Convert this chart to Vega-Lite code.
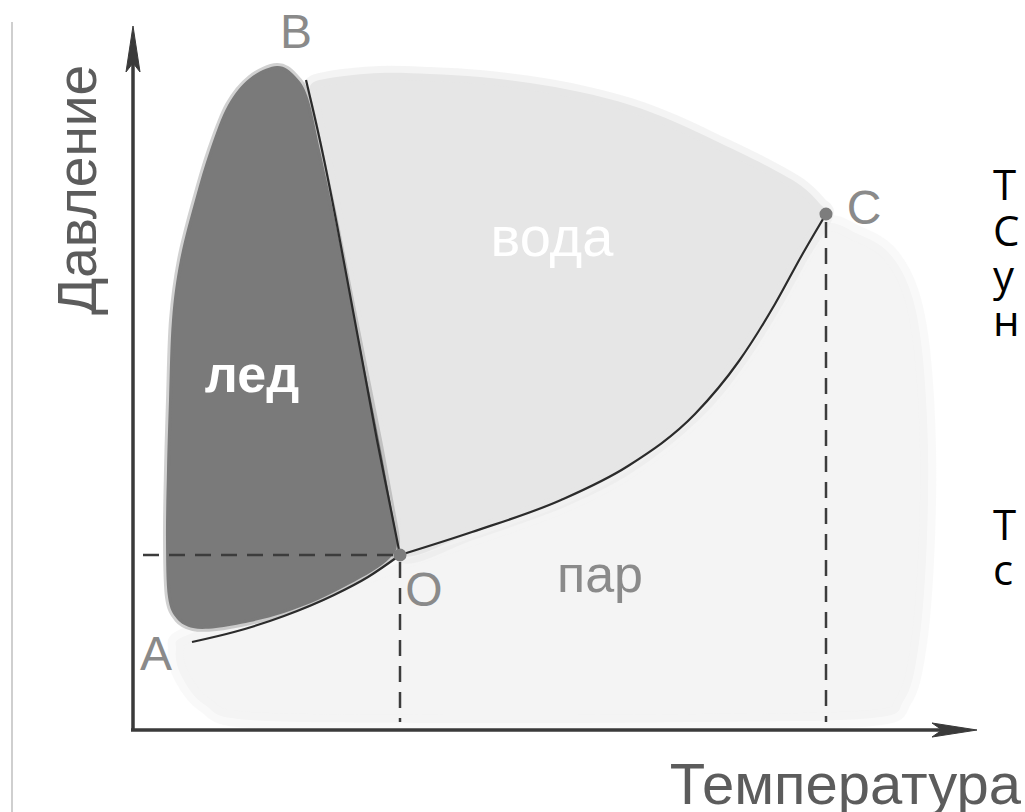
{
  "$schema": "https://vega.github.io/schema/vega-lite/v6.json",
  "width": 1025,
  "height": 812,
  "padding": 0,
  "autosize": {"type": "none"},
  "background": "white",
  "config": {"view": {"stroke": null}},
  "encoding": {
    "x": {"field": "x", "type": "quantitative", "scale": {"domain": [0, 1025], "nice": false, "zero": false}, "axis": null},
    "y": {"field": "y", "type": "quantitative", "scale": {"domain": [0, 812], "reverse": true, "nice": false, "zero": false}, "axis": null}
  },
  "layer": [
    {
      "data": {"values": [
        {"i": 1, "x": 190, "y": 634}, {"i": 2, "x": 300, "y": 603}, {"i": 3, "x": 401, "y": 562}, {"i": 4, "x": 472, "y": 538},
        {"i": 5, "x": 561, "y": 506}, {"i": 6, "x": 628, "y": 471}, {"i": 7, "x": 695, "y": 418}, {"i": 8, "x": 739, "y": 365},
        {"i": 9, "x": 775, "y": 308}, {"i": 10, "x": 802, "y": 259}, {"i": 11, "x": 826, "y": 224}, {"i": 12, "x": 858, "y": 234},
        {"i": 13, "x": 888, "y": 252}, {"i": 14, "x": 910, "y": 290}, {"i": 15, "x": 922, "y": 350}, {"i": 16, "x": 928, "y": 450},
        {"i": 17, "x": 926, "y": 560}, {"i": 18, "x": 918, "y": 650}, {"i": 19, "x": 904, "y": 700}, {"i": 20, "x": 872, "y": 718},
        {"i": 21, "x": 700, "y": 722}, {"i": 22, "x": 450, "y": 723}, {"i": 23, "x": 250, "y": 720}, {"i": 24, "x": 205, "y": 705},
        {"i": 25, "x": 182, "y": 677}, {"i": 26, "x": 176, "y": 650}
      ]},
      "mark": {"type": "line", "interpolate": "cardinal-closed", "fill": "#f4f4f4", "stroke": "#f4f4f4", "strokeWidth": 16, "strokeOpacity": 0.5, "strokeJoin": "round"},
      "encoding": {"order": {"field": "i", "type": "quantitative"}}
    },
    {
      "data": {"values": [
        {"i": 1, "x": 310, "y": 86}, {"i": 2, "x": 330, "y": 78}, {"i": 3, "x": 380, "y": 73}, {"i": 4, "x": 430, "y": 74},
        {"i": 5, "x": 480, "y": 77}, {"i": 6, "x": 530, "y": 83}, {"i": 7, "x": 580, "y": 92}, {"i": 8, "x": 630, "y": 105},
        {"i": 9, "x": 675, "y": 122}, {"i": 10, "x": 720, "y": 143}, {"i": 11, "x": 765, "y": 165}, {"i": 12, "x": 800, "y": 185},
        {"i": 13, "x": 820, "y": 204}, {"i": 14, "x": 826, "y": 216}, {"i": 15, "x": 802, "y": 255}, {"i": 16, "x": 775, "y": 304},
        {"i": 17, "x": 739, "y": 361}, {"i": 18, "x": 695, "y": 414}, {"i": 19, "x": 628, "y": 467}, {"i": 20, "x": 561, "y": 501},
        {"i": 21, "x": 472, "y": 533}, {"i": 22, "x": 402, "y": 556}, {"i": 23, "x": 392, "y": 505}, {"i": 24, "x": 380, "y": 445},
        {"i": 25, "x": 366, "y": 375}, {"i": 26, "x": 352, "y": 305}, {"i": 27, "x": 338, "y": 230}, {"i": 28, "x": 324, "y": 155},
        {"i": 29, "x": 314, "y": 110}
      ]},
      "mark": {"type": "line", "interpolate": "cardinal-closed", "fill": "#e6e6e6", "stroke": "#e6e6e6", "strokeWidth": 14, "strokeOpacity": 0.45, "strokeJoin": "round"},
      "encoding": {"order": {"field": "i", "type": "quantitative"}}
    },
    {
      "data": {"values": [
        {"i": 1, "x": 277, "y": 66}, {"i": 2, "x": 295, "y": 76}, {"i": 3, "x": 308, "y": 98}, {"i": 4, "x": 320, "y": 150},
        {"i": 5, "x": 334, "y": 215}, {"i": 6, "x": 349, "y": 290}, {"i": 7, "x": 364, "y": 365}, {"i": 8, "x": 379, "y": 440},
        {"i": 9, "x": 391, "y": 505}, {"i": 10, "x": 397, "y": 543}, {"i": 11, "x": 390, "y": 558}, {"i": 12, "x": 373, "y": 571},
        {"i": 13, "x": 348, "y": 585}, {"i": 14, "x": 318, "y": 600}, {"i": 15, "x": 284, "y": 613}, {"i": 16, "x": 250, "y": 622},
        {"i": 17, "x": 216, "y": 628}, {"i": 18, "x": 193, "y": 628}, {"i": 19, "x": 177, "y": 619}, {"i": 20, "x": 168, "y": 597},
        {"i": 21, "x": 166, "y": 540}, {"i": 22, "x": 167, "y": 470}, {"i": 23, "x": 169, "y": 400}, {"i": 24, "x": 172, "y": 320},
        {"i": 25, "x": 180, "y": 260}, {"i": 26, "x": 195, "y": 200}, {"i": 27, "x": 210, "y": 150}, {"i": 28, "x": 228, "y": 105},
        {"i": 29, "x": 250, "y": 78}
      ]},
      "mark": {"type": "line", "interpolate": "cardinal-closed", "fill": "#7a7a7a", "stroke": "#7a7a7a", "strokeWidth": 6, "strokeOpacity": 0.35, "strokeJoin": "round"},
      "encoding": {"order": {"field": "i", "type": "quantitative"}}
    },
    {
      "data": {"values": [{"s": "border", "i": 1, "x": 12, "y": 22}, {"s": "border", "i": 2, "x": 12, "y": 812}]},
      "mark": {"type": "line", "stroke": "#cfcfcf", "strokeWidth": 2},
      "encoding": {"order": {"field": "i", "type": "quantitative"}}
    },
    {
      "data": {"values": [
        {"s": "yaxis", "i": 1, "x": 133, "y": 731}, {"s": "yaxis", "i": 2, "x": 133, "y": 55},
        {"s": "xaxis", "i": 1, "x": 131, "y": 730}, {"s": "xaxis", "i": 2, "x": 945, "y": 730}
      ]},
      "mark": {"type": "line", "stroke": "#3a3a3a", "strokeWidth": 3.5},
      "encoding": {"detail": {"field": "s"}, "order": {"field": "i", "type": "quantitative"}}
    },
    {
      "data": {"values": [
        {"s": "yhead", "i": 1, "x": 133, "y": 26}, {"s": "yhead", "i": 2, "x": 140, "y": 72}, {"s": "yhead", "i": 3, "x": 133, "y": 63}, {"s": "yhead", "i": 4, "x": 126, "y": 72},
        {"s": "xhead", "i": 1, "x": 977, "y": 730}, {"s": "xhead", "i": 2, "x": 932, "y": 737}, {"s": "xhead", "i": 3, "x": 942, "y": 730}, {"s": "xhead", "i": 4, "x": 932, "y": 723}
      ]},
      "mark": {"type": "line", "interpolate": "linear-closed", "fill": "#3a3a3a", "stroke": "#3a3a3a", "strokeWidth": 1},
      "encoding": {"detail": {"field": "s"}, "order": {"field": "i", "type": "quantitative"}}
    },
    {
      "data": {"values": [
        {"s": "h", "i": 1, "x": 143, "y": 555}, {"s": "h", "i": 2, "x": 396, "y": 555},
        {"s": "vO", "i": 1, "x": 400, "y": 562}, {"s": "vO", "i": 2, "x": 400, "y": 722},
        {"s": "vC", "i": 1, "x": 826, "y": 222}, {"s": "vC", "i": 2, "x": 826, "y": 722}
      ]},
      "mark": {"type": "line", "stroke": "#3c3c3c", "strokeWidth": 2.5, "strokeDash": [16, 10]},
      "encoding": {"detail": {"field": "s"}, "order": {"field": "i", "type": "quantitative"}}
    },
    {
      "data": {"values": [
        {"s": "AO", "i": 1, "x": 192, "y": 642}, {"s": "AO", "i": 2, "x": 234, "y": 632}, {"s": "AO", "i": 3, "x": 284, "y": 616},
        {"s": "AO", "i": 4, "x": 334, "y": 595}, {"s": "AO", "i": 5, "x": 368, "y": 577}, {"s": "AO", "i": 6, "x": 400, "y": 555},
        {"s": "OB", "i": 1, "x": 306, "y": 80}, {"s": "OB", "i": 2, "x": 322, "y": 150}, {"s": "OB", "i": 3, "x": 337, "y": 225},
        {"s": "OB", "i": 4, "x": 351, "y": 300}, {"s": "OB", "i": 5, "x": 364, "y": 370}, {"s": "OB", "i": 6, "x": 377, "y": 440},
        {"s": "OB", "i": 7, "x": 389, "y": 500}, {"s": "OB", "i": 8, "x": 400, "y": 555},
        {"s": "OC", "i": 1, "x": 400, "y": 555}, {"s": "OC", "i": 2, "x": 472, "y": 532}, {"s": "OC", "i": 3, "x": 561, "y": 500},
        {"s": "OC", "i": 4, "x": 628, "y": 466}, {"s": "OC", "i": 5, "x": 695, "y": 414}, {"s": "OC", "i": 6, "x": 739, "y": 361},
        {"s": "OC", "i": 7, "x": 775, "y": 304}, {"s": "OC", "i": 8, "x": 802, "y": 255}, {"s": "OC", "i": 9, "x": 826, "y": 214}
      ]},
      "mark": {"type": "line", "interpolate": "monotone", "stroke": "#2b2b2b", "strokeWidth": 2.2},
      "encoding": {"detail": {"field": "s"}, "order": {"field": "i", "type": "quantitative"}}
    },
    {
      "data": {"values": [{"x": 400, "y": 555}, {"x": 826, "y": 214}]},
      "mark": {"type": "circle", "size": 170, "color": "#7d7d7d", "opacity": 1}
    },
    {
      "data": {"values": [
        {"t": "B", "x": 296, "y": 48}, {"t": "C", "x": 864, "y": 224}, {"t": "O", "x": 424, "y": 606}, {"t": "A", "x": 156, "y": 670}
      ]},
      "mark": {"type": "text", "font": "Liberation Sans", "fontSize": 48, "color": "#8a8a8a", "align": "center", "baseline": "alphabetic"},
      "encoding": {"text": {"field": "t"}}
    },
    {
      "data": {"values": [{"t": "пар", "x": 600, "y": 592}]},
      "mark": {"type": "text", "font": "Liberation Sans", "fontSize": 52, "color": "#8a8a8a", "align": "center", "baseline": "alphabetic"},
      "encoding": {"text": {"field": "t"}}
    },
    {
      "data": {"values": [{"t": "вода", "x": 552, "y": 256}]},
      "mark": {"type": "text", "font": "Liberation Sans", "fontSize": 56, "color": "#ffffff", "align": "center", "baseline": "alphabetic"},
      "encoding": {"text": {"field": "t"}}
    },
    {
      "data": {"values": [{"t": "лед", "x": 252, "y": 392}]},
      "mark": {"type": "text", "font": "Liberation Sans", "fontSize": 52, "fontWeight": "bold", "color": "#ffffff", "align": "center", "baseline": "alphabetic"},
      "encoding": {"text": {"field": "t"}}
    },
    {
      "data": {"values": [{"t": "Давление", "x": 96, "y": 190}]},
      "mark": {"type": "text", "font": "Liberation Sans", "fontSize": 55, "angle": 270, "color": "#5c5c5c", "align": "center", "baseline": "alphabetic"},
      "encoding": {"text": {"field": "t"}}
    },
    {
      "data": {"values": [{"t": "Температура", "x": 1021, "y": 804}]},
      "mark": {"type": "text", "font": "Liberation Sans", "fontSize": 58, "color": "#5c5c5c", "align": "right", "baseline": "alphabetic"},
      "encoding": {"text": {"field": "t"}}
    },
    {
      "data": {"values": [
        {"t": "Т", "x": 993, "y": 200}, {"t": "С", "x": 993, "y": 246}, {"t": "у", "x": 993, "y": 291}, {"t": "н", "x": 993, "y": 336},
        {"t": "Т", "x": 993, "y": 540}, {"t": "с", "x": 993, "y": 585}
      ]},
      "mark": {"type": "text", "font": "Open Sans", "fontSize": 42, "color": "#000000", "align": "left", "baseline": "alphabetic"},
      "encoding": {"text": {"field": "t"}}
    }
  ]
}
